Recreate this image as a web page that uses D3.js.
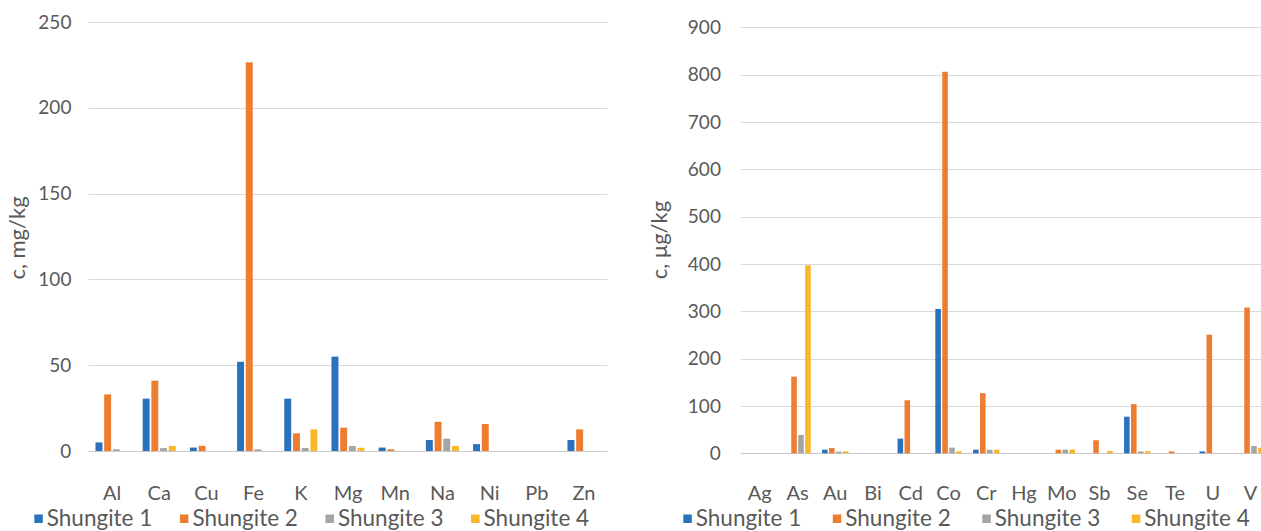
<!DOCTYPE html>
<html>
<head>
<meta charset="utf-8">
<script src="https://cdn.jsdelivr.net/npm/d3@7"></script>
<style>
  html, body { margin: 0; padding: 0; background: #fff; overflow: hidden; }
  svg { display: block; }
  text { font-family: Lato, "Open Sans", sans-serif; fill: #595959; }
</style>
</head>
<body>
<svg id="chart" width="1261" height="531"></svg>
<script>
// ---------- data ----------
const seriesNames = ["Shungite 1", "Shungite 2", "Shungite 3", "Shungite 4"];
const seriesColors = ["#2a72bd", "#ed7d31", "#a5a5a5", "#f9b72b"];

const leftCategories = ["Al", "Ca", "Cu", "Fe", "K", "Mg", "Mn", "Na", "Ni", "Pb", "Zn"];
const leftS1 = [5, 30.5, 2, 52, 30.5, 55, 2, 6.4, 4, 0, 6.4];
const leftS2 = [33, 41, 3, 226.5, 10.3, 13.6, 1, 17, 15.7, 0, 12.6];
const leftS3 = [1, 1.7, 0, 1, 1.7, 2.9, 0, 7.2, 0, 0, 0];
const leftS4 = [0, 2.9, 0, 0, 12.6, 1.9, 0, 2.9, 0, 0, 0];
const leftTicks = [0, 50, 100, 150, 200, 250];
const leftTitle = "c, mg/kg";

const rightCategories = ["Ag", "As", "Au", "Bi", "Cd", "Co", "Cr", "Hg", "Mo", "Sb", "Se", "Te", "U", "V"];
const rightS1 = [0, 0, 7.7, 0, 31, 305, 7.7, 0, 0, 0, 77.4, 0, 4, 0];
const rightS2 = [0, 162, 11.2, 0, 112, 806, 127, 0, 7.6, 27.5, 104, 4, 250.6, 308];
const rightS3 = [0, 38.7, 3.5, 0, 0, 12, 7.6, 0, 7.6, 0, 4, 0, 0, 15.4];
const rightS4 = [0, 397, 4.2, 0, 0, 4, 7.6, 0, 8, 4.9, 4.5, 0, 0, 11.9];
const rightTicks = [0, 100, 200, 300, 400, 500, 600, 700, 800, 900];
const rightTitle = "c, \u03bcg/kg";

// ---------- drawing ----------
const svg = d3.select("#chart");

function drawPanel(cfg) {
  const g = svg.append("g");
  const y = d3.scaleLinear().domain([0, cfg.max]).range([cfg.y0, cfg.yTop]);
  const x0 = d3.scaleBand().domain(cfg.categories).range([cfg.xLeft, cfg.xRight])
    .paddingInner(0.3).paddingOuter(0.15);
  const x1 = d3.scaleBand().domain(seriesNames).range([0, x0.bandwidth()]).paddingInner(0.2);
  const color = d3.scaleOrdinal().domain(seriesNames).range(seriesColors);

  // gridlines
  g.append("g").selectAll("line").data(cfg.ticks).join("line")
    .attr("x1", cfg.xLeft).attr("x2", cfg.xRight)
    .attr("y1", d => Math.round(y(d)) + 0.5).attr("y2", d => Math.round(y(d)) + 0.5)
    .attr("stroke", d => d === 0 ? "#c8c8c8" : "#dadada").attr("stroke-width", 1.2);

  // y axis labels
  const yAxis = d3.axisLeft(y).tickValues(cfg.ticks).tickSize(0).tickPadding(cfg.tickPad)
    .tickFormat(d3.format("d"));
  const ya = g.append("g").attr("transform", `translate(${cfg.xLeft},0)`).call(yAxis);
  ya.select(".domain").remove();
  ya.selectAll("text").style("font-family", "Lato, sans-serif").style("font-size", "19px")
    .attr("fill", "#595959");

  // x axis labels
  const xAxis = d3.axisBottom(x0).tickSize(0).tickPadding(0);
  const xa = g.append("g").attr("transform", `translate(0,${cfg.labelY})`).call(xAxis);
  xa.select(".domain").remove();
  xa.selectAll("text").style("font-family", "Lato, sans-serif").style("font-size", "20px")
    .attr("fill", "#595959").attr("dy", "0");

  // bars
  const rows = cfg.categories.map((c, i) => ({
    cat: c,
    vals: seriesNames.map((s, k) => ({ s, v: cfg.series[k][i] }))
  }));
  g.append("g").selectAll("g").data(rows).join("g")
    .attr("transform", d => `translate(${x0(d.cat)},0)`)
    .selectAll("rect").data(d => d.vals.filter(e => e.v > 0)).join("rect")
    .attr("x", d => x1(d.s)).attr("width", x1.bandwidth())
    .attr("y", d => y(d.v)).attr("height", d => y(0) - y(d.v))
    .attr("fill", d => color(d.s));

  // y title
  g.append("text")
    .attr("transform", `translate(${cfg.titleX},${cfg.titleY}) rotate(-90)`)
    .attr("text-anchor", "middle").style("font-size", "22px")
    .text(cfg.title);

  // legend
  const lg = g.append("g").selectAll("g").data(seriesNames).join("g")
    .attr("transform", (d, i) => `translate(${cfg.legendX + i * cfg.legendStep},0)`);
  lg.append("rect").attr("x", 0).attr("y", 514.5).attr("width", 8.5).attr("height", 8.5)
    .attr("fill", d => color(d));
  lg.append("text").attr("x", 12.5).attr("y", 526).style("font-size", "22.5px").text(d => d);
}

drawPanel({
  categories: leftCategories,
  series: [leftS1, leftS2, leftS3, leftS4],
  ticks: leftTicks, max: 250, y0: 451, yTop: 22,
  xLeft: 88.4, xRight: 607.6, tickPad: 17, labelY: 500,
  title: leftTitle, titleX: 25, titleY: 238,
  legendX: 34.3, legendStep: 145.6
});

drawPanel({
  categories: rightCategories,
  series: [rightS1, rightS2, rightS3, rightS4],
  ticks: rightTicks, max: 900, y0: 453.3, yTop: 27.3,
  xLeft: 740.9, xRight: 1269.4, tickPad: 20, labelY: 500,
  title: rightTitle, titleX: 667, titleY: 240,
  legendX: 683.3, legendStep: 149.5
});
</script>
</body>
</html>
